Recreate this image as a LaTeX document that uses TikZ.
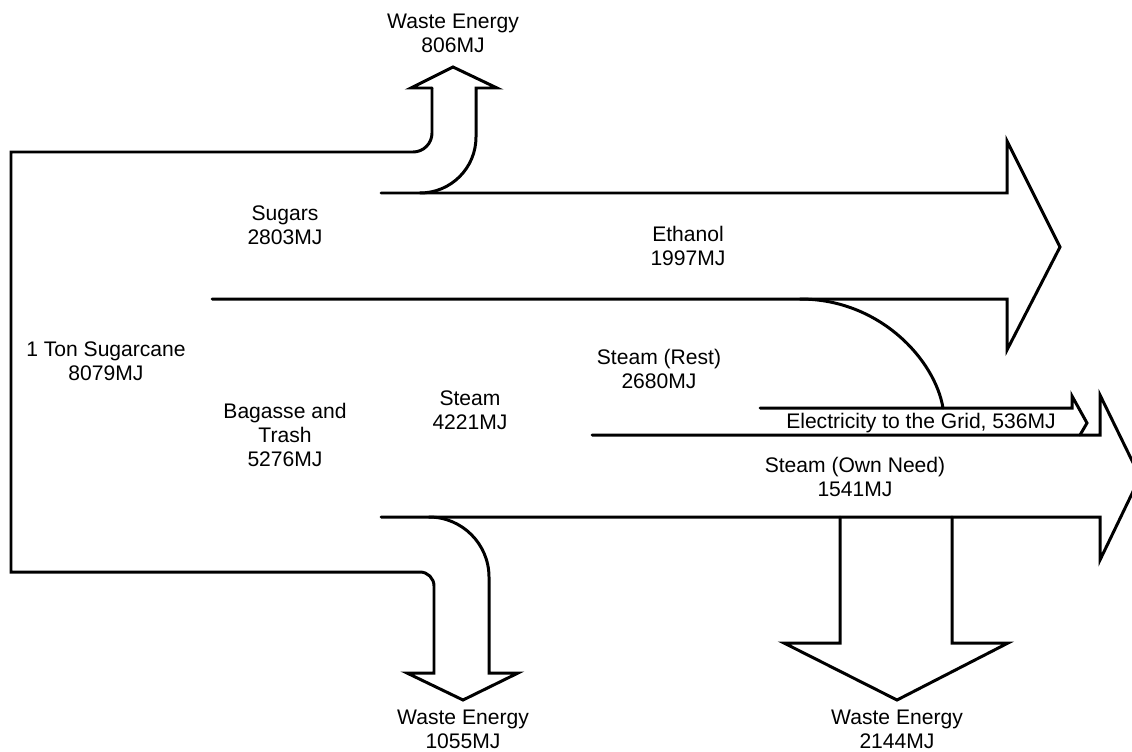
\documentclass[tikz,border=0pt]{standalone}
\usepackage{fontspec}
\setmainfont{Liberation Sans}
\usepackage{tikz}
\usetikzlibrary{positioning, calc}

\begin{document}
\begin{tikzpicture}[x=0.02cm, y=-0.02cm,
  flow/.style={line width=1.7pt, line join=miter, line cap=round},
  every node/.style={align=center, inner sep=0pt, font=\fontsize{12}{13.6}\selectfont}]
  \useasboundingbox (0,0) rectangle (1132,751);

  % Sugarcane box with the two waste arrows
  \draw[flow] (432,88) -- (432,133) .. controls (432,143.5) and (423.5,152) .. (413,152)
    -- (11,152) -- (11,572) -- (420,572) .. controls (427.7,572) and (434,578.3) .. (434,586)
    -- (434,673) -- (407,673) -- (463,700) -- (518,673) -- (489,673) -- (489,577)
    .. controls (489,544) and (462,517) .. (429,517);
  \draw[flow] (432,88) -- (411,88) -- (453,67) -- (497,88) -- (476,88) -- (476,137)
    .. controls (476,168) and (451,193) .. (420,193);

  % Ethanol arrow
  \draw[flow] (381,193) -- (1007,193) -- (1007,141) -- (1060,247) -- (1007,350)
    -- (1007,299) -- (212,299);

  % Steam (rest) bending into the grid arrow
  \draw[flow] (800,299) .. controls (880,299) and (935,360) .. (943,408);
  \draw[flow] (760,408) -- (1072,408) -- (1072,396) -- (1087,423) -- (1080,435);

  % Steam (own need) arrow
  \draw[flow] (592,435) -- (1100,435) -- (1100,395) -- (1140,477) -- (1100,560)
    -- (1100,517) -- (381,517);

  % Waste arrow below the steam
  \draw[flow] (840,517) -- (840,643) -- (784,643) -- (897,700) -- (1008,643)
    -- (952,643) -- (952,517);

  % Labels
  \node (wastetop) at (453,33) {Waste Energy\\806MJ};
  \node (cane) at (106,361) {1 Ton Sugarcane\\8079MJ};
  \node (sugars) at (285,225) {Sugars\\2803MJ};
  \node (bagasse) at (285,435) {Bagasse and\\Trash\\5276MJ};
  \node (ethanol) at (688,246) {Ethanol\\1997MJ};
  \node (steamrest) at (659,369) {Steam (Rest)\\2680MJ};
  \node (steam) at (470,410) {Steam\\4221MJ};
  \node (grid) at (921,423) {Electricity to the Grid, 536MJ};
  \node (ownneed) at (855,477) {Steam (Own Need)\\1541MJ};
  \node (wasteleft) at (463,729) {Waste Energy\\1055MJ};
  \node (wasteright) at (897,729) {Waste Energy\\2144MJ};
\end{tikzpicture}
\end{document}
